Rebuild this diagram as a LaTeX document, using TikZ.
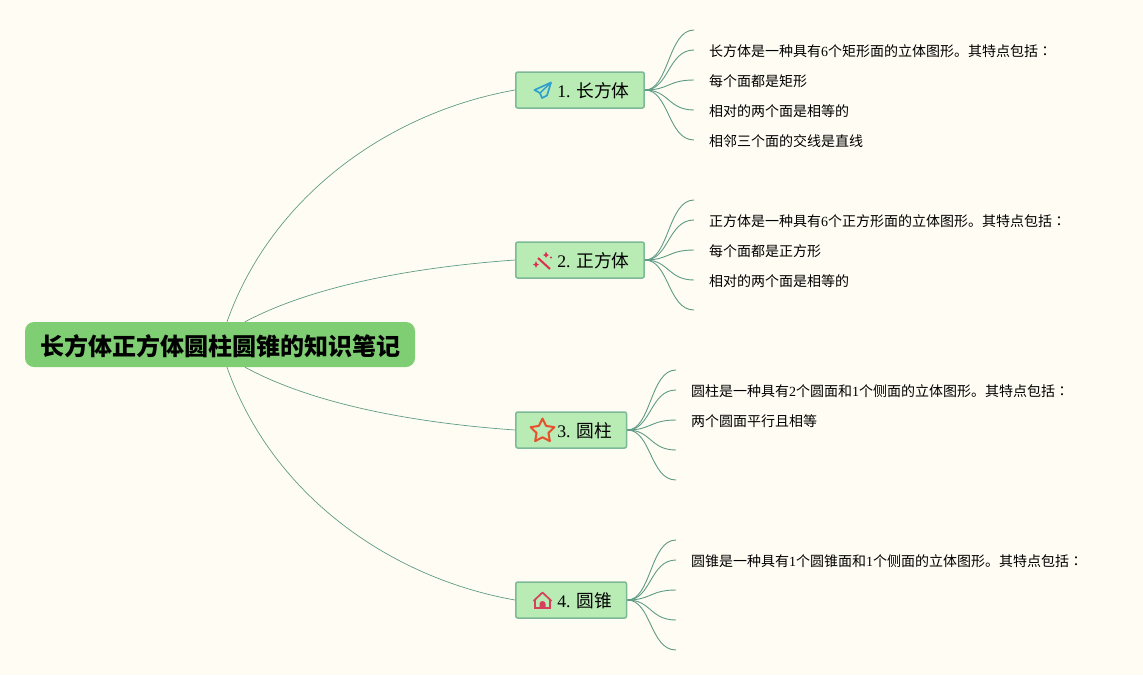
\documentclass[tikz,border=0pt]{standalone}
\usepackage{fontspec}
\setmainfont{Liberation Serif}
\newfontfamily\cjk{Noto Sans CJK SC}
\newfontfamily\cjktc{Noto Sans CJK TC}
\usetikzlibrary{shapes.geometric}
\definecolor{bgcol}{HTML}{FFFDF3}
\definecolor{rootcol}{HTML}{7FCE73}
\definecolor{branchcol}{HTML}{B9EBB5}
\definecolor{bordercol}{HTML}{7DB897}
\definecolor{linecol}{HTML}{5F9A85}
\definecolor{planecol}{HTML}{2F9FD0}
\definecolor{wandcol}{HTML}{DC3050}
\definecolor{starcol}{HTML}{E8502D}
\definecolor{housecol}{HTML}{D6405A}
\newcommand{\colonmark}{{\cjktc ：}}
\tikzset{
  rootbox/.style={fill=rootcol, rounded corners=9pt, minimum width=390pt, minimum height=45pt, inner sep=0pt, text height=22.6pt, text depth=0pt, font=\fontsize{24}{28}\selectfont\cjk\bfseries},
  branchbox/.style={draw=bordercol, line width=1.5pt, fill=branchcol, rounded corners=2pt, minimum height=36pt, inner sep=0pt, text height=15.6pt, text depth=0pt, anchor=west, font=\fontsize{17.7}{22}\selectfont},
  leaf/.style={anchor=west, inner xsep=15pt, inner ysep=0pt, text height=12.8pt, text depth=0pt, font=\fontsize{14}{18}\selectfont},
  wire/.style={draw=linecol, line width=0.7pt},
  twig/.style={wire, line width=0.9pt}
}
\begin{document}
\begin{tikzpicture}[x=1pt, y=-1pt]
  % Fond
  \fill[bgcol] (0,0) rectangle (1143,675);
  \useasboundingbox (0,0) rectangle (1143,675);
  % Noeud central
  \node[rootbox] (root) at (220,344.5) {\hspace*{1.5pt}长方体正方体圆柱圆锥的知识笔记};
  % Branches
  \node[branchbox] (b1) at (515,90) {\hspace*{41.5pt}1. {\cjk 长方体}\hspace*{14.7pt}};
  \node[branchbox] (b2) at (515,260) {\hspace*{41.5pt}2. {\cjk 正方体}\hspace*{14.7pt}};
  \node[branchbox] (b3) at (515,430) {\hspace*{41.5pt}3. {\cjk 圆柱}\hspace*{14.7pt}};
  \node[branchbox] (b4) at (515,600) {\hspace*{41.5pt}4. {\cjk 圆锥}\hspace*{14.7pt}};
  % Liaisons du centre vers les branches
  \draw[wire] ([xshift=7pt]root.north) .. controls (272,195) and (390,112) .. (b1.west);
  \draw[wire] ([xshift=25pt]root.north) .. controls (320,282) and (430,266) .. (b2.west);
  \draw[wire] ([xshift=25pt]root.south) .. controls (320,408) and (430,424) .. (b3.west);
  \draw[wire] ([xshift=7pt]root.south) .. controls (272,495) and (390,578) .. (b4.west);
  % Feuilles de la branche 1
  \coordinate (l11) at (694,30);
  \node[leaf] (l12) at (694,50) {{\cjk 长方体是一种具有}6{\cjk 个矩形面的立体图形。其特点包括}\colonmark};
  \node[leaf] (l13) at (694,80) {\cjk 每个面都是矩形};
  \node[leaf] (l14) at (694,110) {\cjk 相对的两个面是相等的};
  \node[leaf] (l15) at (694,140) {\cjk 相邻三个面的交线是直线};
  \draw[twig] (b1.east) .. controls +(24,0) and +(-26,0) .. (l11);
  \draw[twig] (b1.east) .. controls +(24,0) and +(-26,0) .. (l12.west);
  \draw[twig] (b1.east) .. controls +(24,0) and +(-26,0) .. (l13.west);
  \draw[twig] (b1.east) .. controls +(24,0) and +(-26,0) .. (l14.west);
  \draw[twig] (b1.east) .. controls +(24,0) and +(-26,0) .. (l15.west);
  % Feuilles de la branche 2
  \coordinate (l21) at (694,200);
  \node[leaf] (l22) at (694,220) {{\cjk 正方体是一种具有}6{\cjk 个正方形面的立体图形。其特点包括}\colonmark};
  \node[leaf] (l23) at (694,250) {\cjk 每个面都是正方形};
  \node[leaf] (l24) at (694,280) {\cjk 相对的两个面是相等的};
  \coordinate (l25) at (694,310);
  \draw[twig] (b2.east) .. controls +(24,0) and +(-26,0) .. (l21);
  \draw[twig] (b2.east) .. controls +(24,0) and +(-26,0) .. (l22.west);
  \draw[twig] (b2.east) .. controls +(24,0) and +(-26,0) .. (l23.west);
  \draw[twig] (b2.east) .. controls +(24,0) and +(-26,0) .. (l24.west);
  \draw[twig] (b2.east) .. controls +(24,0) and +(-26,0) .. (l25);
  % Feuilles de la branche 3
  \coordinate (l31) at (676,370);
  \node[leaf] (l32) at (676,390) {{\cjk 圆柱是一种具有}2{\cjk 个圆面和}1{\cjk 个侧面的立体图形。其特点包括}\colonmark};
  \node[leaf] (l33) at (676,420) {\cjk 两个圆面平行且相等};
  \coordinate (l34) at (676,450);
  \coordinate (l35) at (676,480);
  \draw[twig] (b3.east) .. controls +(24,0) and +(-26,0) .. (l31);
  \draw[twig] (b3.east) .. controls +(24,0) and +(-26,0) .. (l32.west);
  \draw[twig] (b3.east) .. controls +(24,0) and +(-26,0) .. (l33.west);
  \draw[twig] (b3.east) .. controls +(24,0) and +(-26,0) .. (l34);
  \draw[twig] (b3.east) .. controls +(24,0) and +(-26,0) .. (l35);
  % Feuilles de la branche 4
  \coordinate (l41) at (676,540);
  \node[leaf] (l42) at (676,560) {{\cjk 圆锥是一种具有}1{\cjk 个圆锥面和}1{\cjk 个侧面的立体图形。其特点包括}\colonmark};
  \coordinate (l43) at (676,590);
  \coordinate (l44) at (676,620);
  \coordinate (l45) at (676,650);
  \draw[twig] (b4.east) .. controls +(24,0) and +(-26,0) .. (l41);
  \draw[twig] (b4.east) .. controls +(24,0) and +(-26,0) .. (l42.west);
  \draw[twig] (b4.east) .. controls +(24,0) and +(-26,0) .. (l43);
  \draw[twig] (b4.east) .. controls +(24,0) and +(-26,0) .. (l44);
  \draw[twig] (b4.east) .. controls +(24,0) and +(-26,0) .. (l45);
  % Icone avion
  \draw[planecol, line width=1.7pt, line join=round] (551,82.5) -- (534.5,90) -- (540,93) -- (542,98) -- (547,95.5) -- cycle;
  \draw[planecol, line width=1.4pt, line join=round] (551,82.5) -- (540,93);
  % Icone baguette
  \draw[wandcol, line width=2pt] (538,258) -- (550,269);
  \fill[wandcol] (546,251.5) -- (547,254) -- (549,255) -- (547,256) -- (546,258) -- (545,256) -- (543,255) -- (545,254) -- cycle;
  \fill[wandcol] (536,261) -- (537,263.5) -- (539,264.5) -- (537,265.5) -- (536,268) -- (535,265.5) -- (533,264.5) -- (535,263.5) -- cycle;
  \fill[wandcol] (551,257.5) circle (1.1pt);
  % Icone etoile
  \node[star, star points=5, star point ratio=2, draw=starcol, line width=2pt, line join=round, minimum size=25pt, inner sep=0pt] (star3) at (542.5,431) {};
  % Icone maison
  \draw[housecol, line width=1.7pt, line join=round] (533.5,601) -- (542.5,592.5) -- (551.5,601);
  \draw[housecol, line width=1.5pt] (535,600) -- (535,608) -- (550,608) -- (550,600);
  \fill[housecol] (539.5,608) -- (539.5,604) arc[start angle=180, end angle=0, radius=3pt] -- (545.5,608) -- cycle;
\end{tikzpicture}
\end{document}
